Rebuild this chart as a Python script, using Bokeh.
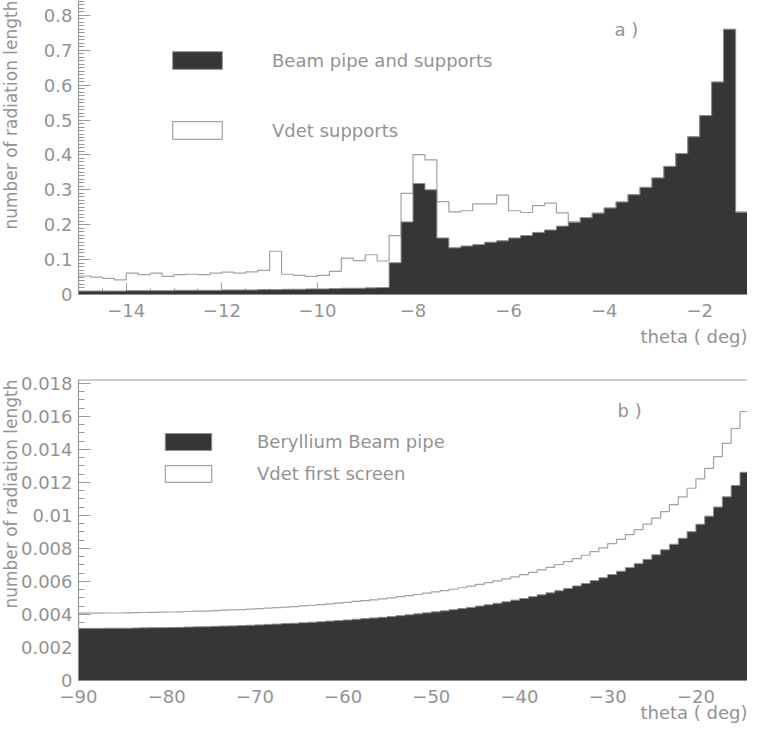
import numpy as np
from bokeh.plotting import figure
from bokeh.models import (Range1d, FixedTicker, CustomJSTickFormatter, Legend,
                          LegendItem, Label, Span, Title)
from bokeh.layouts import column
from bokeh.embed import file_html
from bokeh.resources import INLINE

# ---------------- data: panel a) (0.25 deg bins from -15 to -1) ----------------
bin_width_a = 0.25
bin_lo_a = -15 + bin_width_a * np.arange(56)
beam_pipe_a = [0.010, 0.010, 0.010, 0.010, 0.011, 0.011, 0.011, 0.011,
               0.012, 0.012, 0.012, 0.012, 0.013, 0.013, 0.013, 0.014,
               0.014, 0.015, 0.015, 0.016, 0.016, 0.017, 0.018, 0.018,
               0.019, 0.020, 0.091, 0.208, 0.318, 0.300, 0.162, 0.134,
               0.139, 0.143, 0.150, 0.154, 0.162, 0.169, 0.178, 0.185,
               0.196, 0.207, 0.220, 0.233, 0.248, 0.265, 0.286, 0.307,
               0.334, 0.367, 0.404, 0.452, 0.513, 0.609, 0.760, 0.236]
# outline histogram (Vdet supports, stacked on the beam pipe)
vdet_supports_a = [0.053, 0.050, 0.046, 0.042, 0.061, 0.057, 0.061, 0.052,
                   0.057, 0.058, 0.057, 0.061, 0.064, 0.061, 0.065, 0.069,
                   0.124, 0.058, 0.055, 0.052, 0.055, 0.066, 0.104, 0.097,
                   0.114, 0.096, 0.169, 0.290, 0.401, 0.386, 0.266, 0.237,
                   0.240, 0.260, 0.260, 0.285, 0.240, 0.235, 0.255, 0.262,
                   0.234, 0.208, 0.220, 0.233, 0.248, 0.265, 0.286, 0.307,
                   0.334, 0.367, 0.404, 0.452, 0.513, 0.609, 0.760, 0.236]

# ---------------- data: panel b) (1 deg bins from -90 to -14) ----------------
bin_width_b = 1.0
bin_lo_b = -90 + bin_width_b * np.arange(76)
beryllium_b = [0.00316, 0.00316, 0.00316, 0.00317, 0.00317, 0.00317, 0.00318, 0.00319,
               0.00320, 0.00320, 0.00321, 0.00322, 0.00324, 0.00325, 0.00326, 0.00328,
               0.00330, 0.00331, 0.00333, 0.00335, 0.00337, 0.00340, 0.00342, 0.00345,
               0.00347, 0.00350, 0.00353, 0.00356, 0.00360, 0.00363, 0.00367, 0.00371,
               0.00375, 0.00379, 0.00383, 0.00388, 0.00393, 0.00398, 0.00404, 0.00410,
               0.00416, 0.00422, 0.00429, 0.00436, 0.00443, 0.00451, 0.00459, 0.00468,
               0.00477, 0.00487, 0.00497, 0.00508, 0.00519, 0.00531, 0.00544, 0.00558,
               0.00573, 0.00588, 0.00605, 0.00623, 0.00642, 0.00662, 0.00684, 0.00708,
               0.00734, 0.00762, 0.00792, 0.00826, 0.00862, 0.00902, 0.00947, 0.00996,
               0.01051, 0.01113, 0.01182, 0.01262]
vdet_screen_b = [0.00408, 0.00408, 0.00408, 0.00409, 0.00409, 0.00410, 0.00411, 0.00412,
                 0.00413, 0.00414, 0.00415, 0.00416, 0.00418, 0.00420, 0.00421, 0.00423,
                 0.00426, 0.00428, 0.00430, 0.00433, 0.00436, 0.00439, 0.00442, 0.00445,
                 0.00448, 0.00452, 0.00456, 0.00460, 0.00464, 0.00469, 0.00474, 0.00479,
                 0.00484, 0.00489, 0.00495, 0.00501, 0.00508, 0.00514, 0.00521, 0.00529,
                 0.00537, 0.00545, 0.00553, 0.00562, 0.00572, 0.00582, 0.00593, 0.00604,
                 0.00616, 0.00628, 0.00641, 0.00655, 0.00670, 0.00686, 0.00703, 0.00720,
                 0.00739, 0.00759, 0.00781, 0.00804, 0.00829, 0.00855, 0.00884, 0.00914,
                 0.00948, 0.00984, 0.01023, 0.01066, 0.01113, 0.01165, 0.01222, 0.01286,
                 0.01357, 0.01437, 0.01527, 0.01630]

# ---------------- ticks ----------------
xticks_a = [-14, -12, -10, -8, -6, -4, -2]
xminor_a = list(-15 + 0.5 * np.arange(29))
yticks_a = [0, 0.1, 0.2, 0.3, 0.4, 0.5, 0.6, 0.7, 0.8]
yminor_a = list(0.01 * np.arange(85))
xticks_b = [-90, -80, -70, -60, -50, -40, -30, -20]
xminor_b = list(-90 + 2.0 * np.arange(39))
yticks_b = [0, 0.002, 0.004, 0.006, 0.008, 0.01, 0.012, 0.014, 0.016, 0.018]
yminor_b = list(0.0005 * np.arange(37))

FONT = "DejaVu Sans"
TXT = "#939393"
AXC = "#9a9a9a"
DARK = "#363638"
EDGE = "#8e8e8e"
OUTL = "#a2a2a2"

fmt_code = """
var v = Math.round(tick * 1e6) / 1e6;
return String(v).replace('-', '\\u2212');
"""
# same, but padded on the left with figure spaces so the label column is as
# wide as in panel b) (keeps the two y titles in the same column)
fmt_code_pad = """
var s = String(Math.round(tick * 1e6) / 1e6);
while (s.replace('.', '').length < 4) { s = '\\u2007' + s; }
return s;
"""


def step_outline(lo, width, vals):
    xs, ys = [float(lo[0])], [0.0]
    for x0, v in zip(lo, vals):
        xs += [float(x0), float(x0 + width)]
        ys += [v, v]
    xs.append(float(lo[-1] + width))
    ys.append(0.0)
    return xs, ys


def style_axis(ax, ticks, minor, tick_standoff, code=fmt_code):
    ax.ticker = FixedTicker(ticks=ticks, minor_ticks=minor)
    ax.formatter = CustomJSTickFormatter(code=code)
    ax.axis_line_color = AXC
    ax.axis_line_width = 1.2
    ax.major_tick_line_color = AXC
    ax.minor_tick_line_color = AXC
    ax.major_tick_in = 12
    ax.major_tick_out = 0
    ax.minor_tick_in = 6
    ax.minor_tick_out = 0
    ax.major_label_text_font = FONT
    ax.major_label_text_font_size = "18px"
    ax.major_label_text_color = TXT
    ax.major_label_standoff = tick_standoff


def side_title(text, size, standoff):
    return Title(text=text, align="right", text_font=FONT, text_font_size=size,
                 text_font_style="normal", text_color=TXT, standoff=standoff)


def make_legend(renderer, text, x, y, gw, gh, standoff):
    # area legend glyphs are drawn inset by 10% on each side
    leg = Legend(items=[LegendItem(label=text, renderers=[renderer])],
                 location=(x, y), padding=0, margin=0, spacing=0,
                 border_line_color=None, background_fill_alpha=0,
                 glyph_width=gw, glyph_height=gh, label_height=gh,
                 label_standoff=standoff, label_text_font=FONT,
                 label_text_font_size="18px", label_text_color=TXT)
    return leg


def text_label(text, x, y):
    return Label(x=x, y=y, x_units="screen", y_units="screen", text=text,
                 text_font=FONT, text_font_size="18px", text_color=TXT,
                 text_baseline="middle")


# ---------------- panel a ----------------
p1 = figure(width=747, height=354, x_range=Range1d(-15, -1), y_range=Range1d(0, 0.8427),
            output_backend="svg", toolbar_location=None,
            min_border_left=78, min_border_right=0, min_border_top=0, min_border_bottom=60)
p1.outline_line_color = None
p1.grid.visible = False

xs, ys = step_outline(bin_lo_a, bin_width_a, vdet_supports_a)
r_vdet_a = p1.patch(xs, ys, fill_color="white", line_color=OUTL, line_width=1.2)
xs, ys = step_outline(bin_lo_a, bin_width_a, beam_pipe_a)
r_beam_a = p1.patch(xs, ys, fill_color=DARK, line_color=EDGE, line_width=1.0, level="annotation")

style_axis(p1.xaxis[0], xticks_a, xminor_a, 9)
style_axis(p1.yaxis[0], yticks_a, yminor_a, 6, fmt_code_pad)
p1.add_layout(side_title("theta ( deg)", "18px", 8), "below")
p1.add_layout(side_title("number of radiation length", "17px", -6), "left")

p1.add_layout(make_legend(r_beam_a, "Beam pipe and supports", 88, 223, 62, 22, 44))
p1.add_layout(make_legend(r_vdet_a, "Vdet supports", 88, 153, 62, 22, 44))
p1.add_layout(text_label("a )", 536, 264.6))

# ---------------- panel b ----------------
p2 = figure(width=747, height=370, x_range=Range1d(-90, -14.15), y_range=Range1d(0, 0.01824),
            output_backend="svg", toolbar_location=None,
            min_border_left=78, min_border_right=0, min_border_top=25, min_border_bottom=44)
p2.outline_line_color = None
p2.grid.visible = False

xs, ys = step_outline(bin_lo_b, bin_width_b, vdet_screen_b)
r_vdet_b = p2.patch(xs, ys, fill_color="white", line_color=OUTL, line_width=1.2)
xs, ys = step_outline(bin_lo_b, bin_width_b, beryllium_b)
r_beam_b = p2.patch(xs, ys, fill_color=DARK, line_color=EDGE, line_width=1.0, level="annotation")

style_axis(p2.xaxis[0], xticks_b, xminor_b, 9)
style_axis(p2.yaxis[0], yticks_b, yminor_b, 6)
p2.add_layout(side_title("theta ( deg)", "18px", -11), "below")
p2.add_layout(side_title("number of radiation length", "17px", -6), "left")

p2.add_layout(Span(location=0.01822, dimension="width", line_color=AXC, line_width=1.5))
p2.add_layout(make_legend(r_beam_b, "Beryllium Beam pipe", 81, 228, 58, 21, 40))
p2.add_layout(make_legend(r_vdet_b, "Vdet first screen", 81, 196, 58, 21, 40))
p2.add_layout(text_label("b )", 539, 270))

layout = column(p1, p2, spacing=0)
open("out.html", "w").write(file_html(layout, INLINE))
